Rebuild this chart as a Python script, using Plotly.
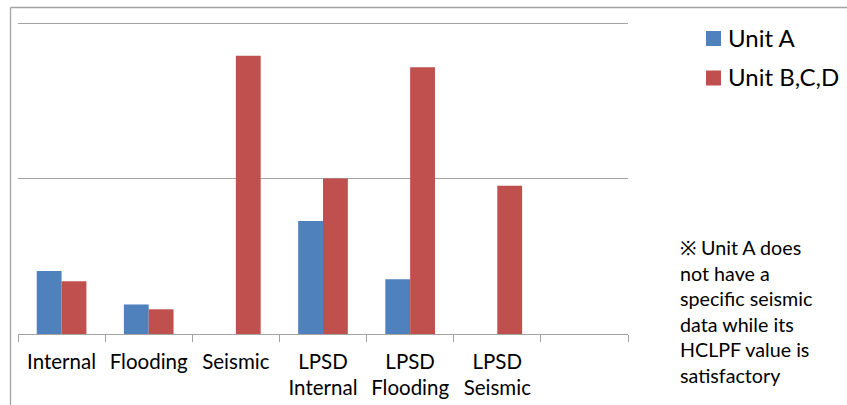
import plotly.graph_objects as go

# Categories (last slot is an empty category on the axis)
categories = ["Internal", "Flooding", "Seismic", "LPSD<br>Internal",
              "LPSD<br>Flooding", "LPSD<br>Seismic", " "]
unit_a = [0.405, 0.19, None, 0.727, 0.352, None, None]
unit_bcd = [0.339, 0.159, 1.79, 1.0, 1.715, 0.954, None]

series_names = ["Unit A", "Unit B,C,D"]
series_colors = ["#4F81BD", "#C0504D"]

note_lines = ["※ Unit A does", "not have a", "specific seismic",
              "data while its", "HCLPF value is", "satisfactory"]

FONT = "Lato"
W, H = 847, 405
L, R, T, B = 18, 628, 20, 334  # plot area in pixels
UNIT_PX = 155.5                # pixels per y unit
GRID = "#a3a3a3"


def px_x(x):
    return (x - L) / (R - L)


def px_y(y):
    return (B - y) / (B - T)


fig = go.Figure()
for name, vals, col in zip(series_names, [unit_a, unit_bcd], series_colors):
    fig.add_trace(go.Bar(x=categories, y=vals, name=name,
                         marker=dict(color=col, line=dict(width=0)),
                         showlegend=False))

shapes = []
# outer chart frame (top and left edges)
shapes.append(dict(type="line", xref="paper", yref="paper",
                   x0=px_x(10.5), x1=px_x(W + 5), y0=px_y(7.5), y1=px_y(7.5),
                   line=dict(color=GRID, width=1.3)))
shapes.append(dict(type="line", xref="paper", yref="paper",
                   x0=px_x(10.5), x1=px_x(10.5), y0=px_y(7.5), y1=px_y(H + 5),
                   line=dict(color=GRID, width=1.3)))

annotations = []
# legend
leg_rows = [38.5, 78]
for name, col, yc in zip(series_names, series_colors, leg_rows):
    shapes.append(dict(type="rect", xref="paper", yref="paper",
                       x0=px_x(706), x1=px_x(721), y0=px_y(yc - 7.5), y1=px_y(yc + 7.5),
                       fillcolor=col, line=dict(width=0)))
    annotations.append(dict(text=name, xref="paper", yref="paper",
                            x=px_x(726), y=px_y(yc - 1), xanchor="left", yanchor="middle",
                            showarrow=False, font=dict(family=FONT, size=24, color="#000")))

annotations.append(dict(text="<br>".join(note_lines), xref="paper", yref="paper",
                        x=px_x(678), y=px_y(311), xanchor="left", yanchor="middle",
                        align="left", showarrow=False,
                        font=dict(family=FONT, size=19.7, color="#000")))

fig.update_layout(
    width=W, height=H,
    margin=dict(l=L, r=W - R, t=T, b=H - B, autoexpand=False),
    paper_bgcolor="white", plot_bgcolor="white",
    barmode="group", bargap=0.43, bargroupgap=0,
    font=dict(family=FONT, size=20.5, color="#000"),
    shapes=shapes, annotations=annotations,
    xaxis=dict(type="category", categoryorder="array", categoryarray=categories,
               showline=True, linecolor=GRID, linewidth=1.3,
               ticks="outside", tickson="boundaries", ticklen=7, tickcolor=GRID,
               tickwidth=1.3, showgrid=False, fixedrange=True,
               tickangle=0, automargin=False,
               ticklabelstandoff=9,
               tickfont=dict(family=FONT, size=20.5, color="#000")),
    yaxis=dict(range=[0, (B - T) / UNIT_PX], dtick=1, showticklabels=False,
               showgrid=True, gridcolor=GRID, gridwidth=1.3, zeroline=False,
               showline=False, ticks="", automargin=False),
)

fig.write_html("out.html")
